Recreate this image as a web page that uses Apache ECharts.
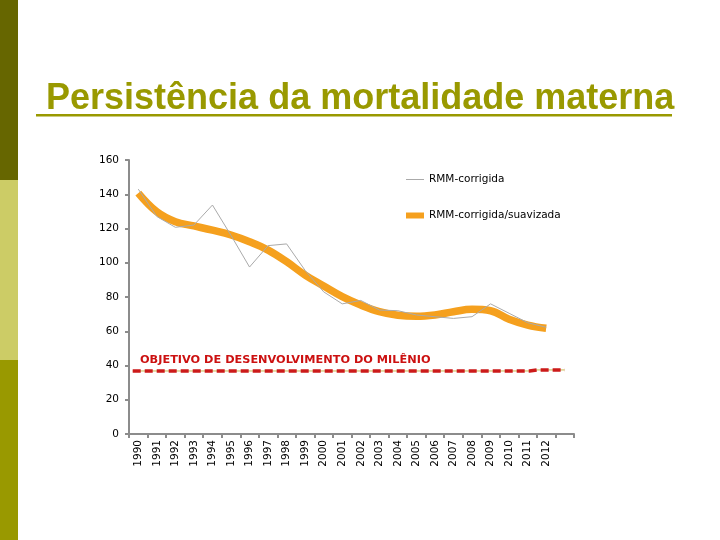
<!DOCTYPE html>
<html>
<head>
<meta charset="utf-8">
<script src="https://cdn.jsdelivr.net/npm/echarts@6/dist/echarts.min.js"></script>
<style>
html,body{margin:0;padding:0;background:#fff;}
#chart{width:720px;height:540px;}
</style>
</head>
<body>
<div id="chart"></div>
<script>
// ---- data ----
var years = ['1990','1991','1992','1993','1994','1995','1996','1997','1998','1999','2000','2001','2002','2003','2004','2005','2006','2007','2008','2009','2010','2011','2012',''];
var rmmCorrigida = [143, 127, 120.7, 122, 133.7, 116, 97.5, 110, 111, 95.5, 83, 76, 78, 72.4, 72, 69.5, 68.5, 67.5, 68.5, 76, 70.5, 65, 62.3];
var rmmSuavizada = [140.7, 129.8, 124, 121.5, 119, 116.2, 112.3, 107.4, 100.6, 92.8, 86.4, 80.2, 75.3, 71.4, 69.3, 68.7, 69.5, 71.4, 72.8, 72, 67, 63.6, 61.7];
var goalX = [0.2, 21.6, 22.0, 23.5];
var goalY = [36.8, 36.8, 37.4, 37.4];
var yTicks = {min: 0, max: 160, interval: 20};
var titleText = ' Persistência da mortalidade materna';
var goalText = 'OBJETIVO DE DESENVOLVIMENTO DO MILÊNIO';

var goalData = goalX.map(function (x, i) { return [x, goalY[i]]; });

var chart = echarts.init(document.getElementById('chart'), null, {renderer: 'canvas'});
var font = 'DejaVu Sans, Verdana, sans-serif';
chart.setOption({
  animation: false,
  backgroundColor: '#ffffff',
  grid: {left: 129, right: 146, top: 160, bottom: 106, containLabel: false},
  legend: [
    {data: ['RMM-corrigida'], left: 401, top: 169, orient: 'vertical', icon: 'rect', itemWidth: 18, itemHeight: 1,
     textStyle: {fontFamily: font, fontSize: 10.5, color: '#000'}},
    {data: ['RMM-corrigida/suavizada'], left: 401, top: 205, orient: 'vertical', icon: 'rect', itemWidth: 18, itemHeight: 6,
     textStyle: {fontFamily: font, fontSize: 10.5, color: '#000'}}
  ],
  xAxis: [
    {type: 'category', data: years, boundaryGap: true,
     axisLine: {lineStyle: {color: '#8c8c8c', width: 2}},
     axisTick: {show: true, interval: 0, length: 4, lineStyle: {color: '#8c8c8c', width: 2}},
     axisLabel: {interval: 0, rotate: 90, margin: 6, fontFamily: font, fontSize: 10.5, color: '#000'},
     splitLine: {show: false}},
    {type: 'value', min: 0, max: 24, show: false}
  ],
  yAxis: {type: 'value', min: yTicks.min, max: yTicks.max, interval: yTicks.interval,
    axisLine: {show: true, lineStyle: {color: '#8c8c8c', width: 2}},
    axisTick: {show: true, length: 4, lineStyle: {color: '#8c8c8c', width: 2}},
    axisLabel: {margin: 10, fontFamily: font, fontSize: 10.5, color: '#000'},
    splitLine: {show: false}},
  series: [
    {name: 'RMM-corrigida', type: 'line', data: rmmCorrigida, symbol: 'none', z: 3,
     lineStyle: {color: '#aaaaaa', width: 1}, itemStyle: {color: '#aaaaaa'}},
    {name: 'RMM-corrigida/suavizada', type: 'line', data: rmmSuavizada, symbol: 'none', smooth: 0.4, z: 2,
     lineStyle: {color: '#f5a01e', width: 7.5}, itemStyle: {color: '#f5a01e'}},
    {name: 'goalBase', type: 'line', xAxisIndex: 1, data: goalData, symbol: 'none', z: 4,
     lineStyle: {color: '#c8b850', width: 1}},
    {name: 'goal', type: 'line', xAxisIndex: 1, data: goalData, symbol: 'none', z: 5,
     lineStyle: {color: '#cc1a1a', width: 3.5, type: [8, 4]}}
  ],
  graphic: [
    {type: 'rect', shape: {x: 0, y: 0, width: 18, height: 180}, style: {fill: '#666600'}},
    {type: 'rect', shape: {x: 0, y: 180, width: 18, height: 180}, style: {fill: '#cccc66'}},
    {type: 'rect', shape: {x: 0, y: 360, width: 18, height: 180}, style: {fill: '#999900'}},
    {type: 'text', x: 36, y: 99, style: {text: titleText, fill: '#999900', font: 'bold 36px "Liberation Sans", Arial, sans-serif', textAlign: 'left', textVerticalAlign: 'middle'}},
    {type: 'rect', shape: {x: 36, y: 114, width: 636, height: 2.5}, style: {fill: '#999900'}},
    {type: 'text', x: 140, y: 360, style: {text: goalText, fill: '#cc1111', font: 'bold 11.3px "DejaVu Sans", Verdana, sans-serif', textAlign: 'left', textVerticalAlign: 'middle'}}
  ]
});
</script>
</body>
</html>
